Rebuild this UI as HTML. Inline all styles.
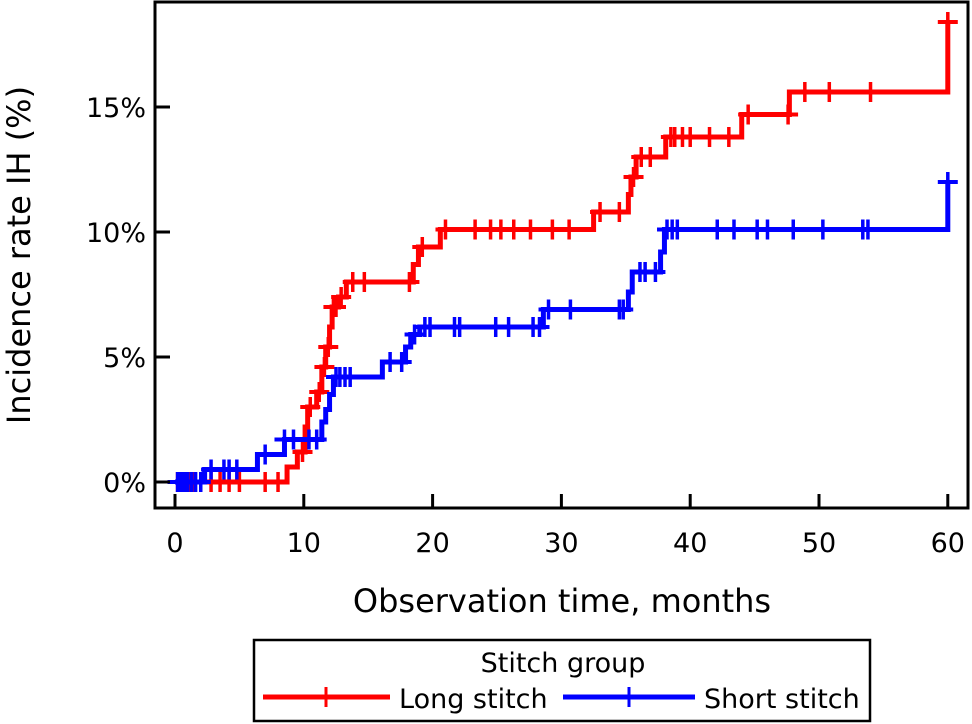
<!DOCTYPE html>
<html><head><meta charset="utf-8"><style>
body{margin:0;background:#fff;}
svg{display:block;font-family:"DejaVu Sans","Liberation Sans",sans-serif;}
</style></head><body>
<svg id="chart" width="972" height="724">
<g id="plot"></g>
<g id="axes"></g>
<text x="562" y="612" font-size="32" text-anchor="middle">Observation time, months</text>
<text transform="translate(30,255) rotate(-90)" font-size="32" text-anchor="middle">Incidence rate IH (%)</text>
<g>
<rect x="254" y="640" width="616" height="81" fill="none" stroke="#000" stroke-width="2.5"/>
<text x="563" y="672" font-size="27" text-anchor="middle">Stitch group</text>
<g>
<line x1="263" y1="697" x2="390" y2="697" stroke="#ff0000" stroke-width="5"/>
<line x1="326" y1="687" x2="326" y2="707" stroke="#ff0000" stroke-width="3"/>
<text x="399" y="708" font-size="27">Long stitch</text></g>
<g>
<line x1="563" y1="697" x2="695" y2="697" stroke="#0000ff" stroke-width="5"/>
<line x1="629" y1="687" x2="629" y2="707" stroke="#0000ff" stroke-width="3"/>
<text x="704" y="708" font-size="27">Short stitch</text></g>
</g>
</svg>
<script>
const xTicks=[0,10,20,30,40,50,60];
const yTicks=[0,5,10,15];
const redTimes=[0,8.7,9.5,10.1,10.3,11,11.4,11.7,12,12.2,12.7,13.3,18.5,18.9,20.6,32.5,35.2,35.4,35.8,38.1,44,47.7,60];
const redVals=[0,0.6,1.2,2.2,3.0,3.6,4.6,5.4,6.2,7.0,7.4,8.0,8.7,9.4,10.1,10.8,11.5,12.2,13.0,13.8,14.7,15.6,18.4];
const redCens=[0.2,0.5,0.8,1.2,1.5,2.8,3.5,4.2,5,7,8,9.9,10.5,11.2,11.6,11.9,12.3,12.5,12.9,13.8,14.7,18.2,19.2,21,23.3,24.5,25.3,26.3,27.6,29.3,30.6,33,34.5,35.6,36.2,36.9,38.5,38.8,39.4,40,41.5,43,44.5,47.6,48.9,50.8,54,60];
const blueTimes=[0,2.3,6.4,8.5,11.4,11.7,12,12.3,16.1,17.9,18.3,19,28.6,35.2,35.5,37.7,38,60];
const blueVals=[0,0.5,1.1,1.7,2.4,2.9,3.5,4.2,4.8,5.4,5.9,6.2,6.9,7.6,8.4,9.2,10.1,12.0];
const blueCens=[0.2,0.4,0.6,0.8,1.0,1.3,1.6,2.0,2.8,3.8,4.2,4.8,7,8.5,9.2,10.4,11,12.5,12.8,13.2,13.6,16.7,17.6,18.6,19.4,19.8,21.7,22.1,24.9,25.9,27.8,28.3,29,30.7,34.5,34.8,36.1,36.5,37.3,38.2,38.6,39,42.1,43.4,45.2,46,48,50.3,53.4,53.8,60];
const X=t=>175+t*12.88, Y=v=>482-v*25;
const NS='http://www.w3.org/2000/svg';
const plot=document.getElementById('plot'), axes=document.getElementById('axes');
function mk(tag,attrs,parent){const e=document.createElementNS(NS,tag);for(const k in attrs)e.setAttribute(k,attrs[k]);parent.appendChild(e);return e;}
function valAt(times,vals,t){let v=0;for(let i=0;i<times.length;i++){if(times[i]<=t)v=vals[i];}return v;}
function series(times,vals,cens,color,name){
  let d='M'+X(0)+','+Y(vals[0]);
  for(let i=1;i<times.length;i++){d+=' H'+X(times[i])+' V'+Y(vals[i]);}
  const p=mk('path',{d:d,fill:'none',stroke:color,'stroke-width':5},plot);
  
  
  cens.forEach(t=>{const v=valAt(times,vals,t);
    const l=mk('line',{x1:X(t),x2:X(t),y1:Y(v)-10,y2:Y(v)+10,stroke:color,'stroke-width':3.5},plot);
    
    
    const h=mk('line',{x1:X(t)-10,x2:X(t)+10,y1:Y(v),y2:Y(v),stroke:color,'stroke-width':4},plot);
    
    
  });
}
series(redTimes,redVals,redCens,'#ff0000','long-stitch');
series(blueTimes,blueVals,blueCens,'#0000ff','short-stitch');
const fr=mk('rect',{x:155,y:2,width:813,height:506,fill:'none',stroke:'#000','stroke-width':3},axes);


xTicks.forEach(t=>{
  const l=mk('line',{x1:X(t),x2:X(t),y1:508,y2:494,stroke:'#000','stroke-width':3},axes);
  
  
  const tx=mk('text',{x:X(t),y:552,'font-size':27,'text-anchor':'middle'},axes);
  tx.textContent=t;
  
  
});
yTicks.forEach(v=>{
  const l=mk('line',{x1:155,x2:170,y1:Y(v),y2:Y(v),stroke:'#000','stroke-width':3},axes);
  
  
  const tx=mk('text',{x:146,y:Y(v)+10,'font-size':27,'text-anchor':'end'},axes);
  tx.textContent=v+'%';
  
  
});
</script>
</body></html>
